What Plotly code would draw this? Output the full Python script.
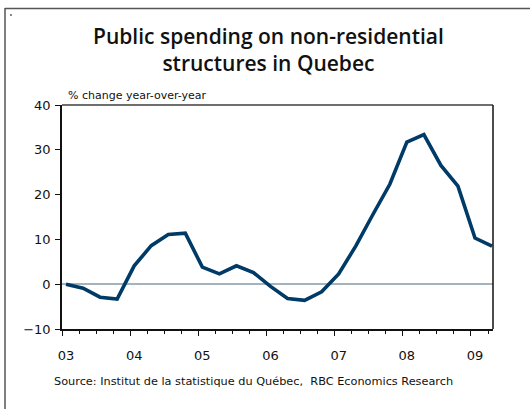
import plotly.graph_objects as go

# Quarterly series, 2003Q1 - 2009Q2
years = [2003] * 4 + [2004] * 4 + [2005] * 4 + [2006] * 4 + [2007] * 4 + [2008] * 4 + [2009] * 2
quarters = [1, 2, 3, 4] * 6 + [1, 2]
pct_change = [0.0, -0.9, -2.9, -3.3, 4.1, 8.6, 11.1, 11.4,
              3.8, 2.3, 4.1, 2.6, -0.5, -3.2, -3.6, -1.7,
              2.3, 8.5, 15.5, 22.3, 31.7, 33.4, 26.5, 21.9,
              10.3, 8.5]
year_labels = ["03", "04", "05", "06", "07", "08", "09"]

x = [y + (q - 1) / 4 for y, q in zip(years, quarters)]
tick_start = 2002.941
tick_vals = [tick_start + i for i in range(len(year_labels))]

W, H = 530, 409
L, R, T, B = 62, 37, 105, 80
PW, PH = W - L - R, H - T - B


def px_x(px):
    return (px - L) / PW


def px_y(py):
    return (H - B - py) / PH


fig = go.Figure()
fig.add_trace(go.Scatter(
    x=x, y=pct_change, mode="lines",
    line=dict(color="#003a66", width=3.6),
    hoverinfo="skip",
))

fig.update_layout(
    width=W, height=H,
    margin=dict(l=L, r=R, t=T, b=B),
    paper_bgcolor="white", plot_bgcolor="white",
    showlegend=False,
    font=dict(family="Liberation Sans, Arial, sans-serif", color="#111111", size=12),
)

fig.update_xaxes(
    range=[tick_start, 2009.264],
    tickmode="array", tickvals=tick_vals, ticktext=year_labels,
    ticks="outside", ticklen=5, tickwidth=1, tickcolor="#111111",
    ticklabelshift=4,
    minor=dict(tick0=tick_start, dtick=0.25, ticks="outside", ticklen=3,
               tickwidth=1, tickcolor="#111111"),
    showgrid=False, zeroline=False,
    showline=True, linecolor="#111111", linewidth=1.5, mirror=False,
    tickfont=dict(size=13, family="DejaVu Sans, sans-serif"),
    ticklabelstandoff=9,
)
fig.update_yaxes(
    range=[-10, 40], dtick=10,
    ticks="outside", ticklen=5, tickwidth=1, tickcolor="#111111",
    showgrid=False,
    zeroline=True, zerolinecolor="#a3b3c0", zerolinewidth=1.5,
    showline=True, linecolor="#111111", linewidth=1.5,
    tickfont=dict(size=13, family="DejaVu Sans, sans-serif"),
    ticklabelstandoff=2,
)

# Plot frame: grey top edge, dark right edge
fig.add_shape(type="line", xref="paper", yref="paper", x0=0, x1=1, y0=1, y1=1,
              line=dict(color="#6e6e6e", width=2))
fig.add_shape(type="line", xref="paper", yref="paper", x0=1, x1=1, y0=0, y1=1,
              line=dict(color="#111111", width=1.5))

# Outer chart border (left and top) and the small corner mark
fig.add_shape(type="line", xref="paper", yref="paper",
              x0=px_x(5), x1=px_x(5), y0=px_y(H), y1=px_y(8),
              line=dict(color="#555555", width=1.5))
fig.add_shape(type="line", xref="paper", yref="paper",
              x0=px_x(5), x1=px_x(W), y0=px_y(8.5), y1=px_y(8.5),
              line=dict(color="#555555", width=1.5))
fig.add_shape(type="rect", xref="paper", yref="paper",
              x0=px_x(10), x1=px_x(12), y0=px_y(16), y1=px_y(14),
              line=dict(width=0), fillcolor="#888888")

fig.add_annotation(
    text="Public spending on non-residential<br>structures in Quebec",
    xref="paper", yref="paper", x=px_x(268), y=px_y(20),
    xanchor="center", yanchor="top", showarrow=False,
    font=dict(family="Open Sans, sans-serif", size=21, color="#111111", weight=600),
    align="center",
)
fig.add_annotation(
    text="% change year-over-year",
    xref="paper", yref="paper", x=px_x(66), y=px_y(87),
    xanchor="left", yanchor="top", showarrow=False,
    font=dict(family="DejaVu Sans, sans-serif", size=11, color="#111111"),
)
fig.add_annotation(
    text="Source: Institut de la statistique du Québec,  RBC Economics Research",
    xref="paper", yref="paper", x=px_x(52), y=px_y(373),
    xanchor="left", yanchor="top", showarrow=False,
    font=dict(family="DejaVu Sans, sans-serif", size=11.3, color="#111111"),
)

fig.write_html("out.html")
